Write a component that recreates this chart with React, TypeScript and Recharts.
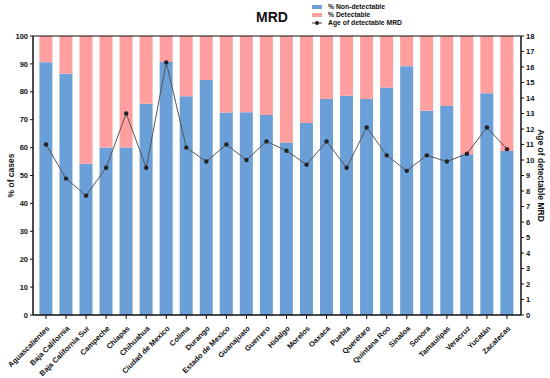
import {
  Bar,
  ComposedChart,
  Line,
  ReferenceLine,
  XAxis,
  YAxis,
} from "recharts";

const states = [
  "Aguascalientes",
  "Baja California",
  "Baja California Sur",
  "Campeche",
  "Chiapas",
  "Chihuahua",
  "Ciudad de Mexico",
  "Colima",
  "Durango",
  "Estado de Mexico",
  "Guanajuato",
  "Guerrero",
  "Hidalgo",
  "Morelos",
  "Oaxaca",
  "Puebla",
  "Querétaro",
  "Quintana Roo",
  "Sinaloa",
  "Sonora",
  "Tamaulipas",
  "Veracruz",
  "Yucatán",
  "Zacatecas",
];

const nonDetectable = [
  90.6, 86.5, 54.2, 60, 60, 75.7, 90.7, 78.4, 84.2, 72.6, 72.7, 71.7, 61.8, 68.8,
  77.4, 78.6, 77.4, 81.5, 89.2, 73.2, 74.9, 57.6, 79.5, 58.8,
];

const detectable = [
  9.4, 13.5, 45.8, 40, 40, 24.3, 9.3, 21.6, 15.8, 27.4, 27.3, 28.3, 38.2, 31.2,
  22.6, 21.4, 22.6, 18.5, 10.8, 26.8, 25.1, 42.4, 20.5, 41.2,
];

const ageDetectable = [
  11, 8.8, 7.7, 9.5, 13, 9.5, 16.3, 10.8, 9.9, 11, 10, 11.2, 10.6, 9.7, 11.2, 9.5,
  12.1, 10.3, 9.3, 10.3, 9.9, 10.4, 12.1, 10.7,
];

const leftTicks = [0, 10, 20, 30, 40, 50, 60, 70, 80, 90, 100];
const rightTicks = [0, 1, 2, 3, 4, 5, 6, 7, 8, 9, 10, 11, 12, 13, 14, 15, 16, 17, 18];

const BLUE = "#6a9fd7";
const PINK = "#ff9f9f";
const FONT = "'Liberation Sans', Arial, sans-serif";

const data = states.map((state, i) => ({
  state,
  nd: nonDetectable[i],
  det: detectable[i],
  age: ageDetectable[i],
}));

const tickStyle = { fill: "#111", fontSize: 7.5, fontWeight: 700, fontFamily: FONT };

function StateTick({ x, y, payload }: any) {
  return (
    <text
      x={x}
      y={y + 4}
      transform={`rotate(-45 ${x} ${y + 4})`}
      textAnchor="end"
      dominantBaseline="hanging"
      fontSize={7.5}
      fontWeight={700}
      fontFamily={FONT}
      fill="#111"
    >
      {payload.value}
    </text>
  );
}

// legend lives outside the chart so it doesn't eat plot space
function ChartLegend() {
  const row = { display: "flex", alignItems: "center", height: 8 } as const;
  const label = { fontSize: 6.8, fontWeight: 700, color: "#111", marginLeft: 6 };
  return (
    <div style={{ position: "absolute", left: 312, top: 3, fontFamily: FONT, lineHeight: 1 }}>
      <div style={row}>
        <span style={{ width: 10, height: 4, background: BLUE, display: "inline-block" }} />
        <span style={label}>% Non-detectable</span>
      </div>
      <div style={row}>
        <span style={{ width: 10, height: 4, background: PINK, display: "inline-block" }} />
        <span style={label}>% Detectable</span>
      </div>
      <div style={row}>
        <svg width={10} height={6}>
          <line x1={0} y1={3} x2={10} y2={3} stroke="#444" strokeWidth={1} />
          <circle cx={5} cy={3} r={2} fill="#222" />
        </svg>
        <span style={label}>Age of detectable MRD</span>
      </div>
    </div>
  );
}

export default function App() {
  return (
    <div style={{ position: "absolute", left: 0, top: 0, width: 550, height: 378, background: "#fff" }}>
      <div
        style={{
          position: "absolute",
          left: 250,
          top: 9,
          width: 44,
          textAlign: "center",
          fontFamily: FONT,
          fontWeight: 700,
          fontSize: 14,
          color: "#111",
        }}
      >
        MRD
      </div>
      <ChartLegend />
      <ComposedChart
        width={550}
        height={378}
        data={data}
        margin={{ top: 36, right: 0, bottom: 0, left: 0 }}
        barCategoryGap="17%"
      >
        <XAxis
          dataKey="state"
          interval={0}
          height={63}
          padding={{ left: 3, right: 4 }}
          tick={<StateTick />}
          tickSize={4}
          axisLine={{ stroke: "#111", strokeWidth: 1.5 }}
          tickLine={{ stroke: "#111", strokeWidth: 1 }}
        />
        <YAxis
          yAxisId="left"
          domain={[0, 100]}
          ticks={leftTicks}
          width={33}
          tick={tickStyle}
          tickSize={3}
          axisLine={{ stroke: "#111", strokeWidth: 1.5 }}
          tickLine={{ stroke: "#111", strokeWidth: 1 }}
          label={{
            value: "% of cases",
            angle: -90,
            position: "insideLeft",
            offset: 11,
            style: { fontSize: 8.5, fontWeight: 700, fontFamily: FONT, fill: "#111", textAnchor: "middle" },
          }}
        />
        <YAxis
          yAxisId="right"
          orientation="right"
          domain={[0, 18]}
          ticks={rightTicks}
          width={29}
          tick={tickStyle}
          tickSize={3}
          axisLine={{ stroke: "#111", strokeWidth: 1.5 }}
          tickLine={{ stroke: "#111", strokeWidth: 1 }}
          label={{
            value: "Age of detectable MRD",
            angle: 90,
            position: "insideRight",
            offset: 9,
            style: { fontSize: 8.5, fontWeight: 700, fontFamily: FONT, fill: "#111", textAnchor: "middle" },
          }}
        />
        <Bar yAxisId="left" dataKey="nd" stackId="a" fill={BLUE} isAnimationActive={false} />
        <Bar yAxisId="left" dataKey="det" stackId="a" fill={PINK} isAnimationActive={false} />
        <ReferenceLine yAxisId="left" y={100} stroke="#111" strokeWidth={1.2} />
        <Line
          yAxisId="right"
          dataKey="age"
          stroke="#555"
          strokeWidth={1}
          dot={{ r: 2.2, fill: "#222", stroke: "#222", strokeWidth: 0 }}
          isAnimationActive={false}
        />
      </ComposedChart>
    </div>
  );
}
